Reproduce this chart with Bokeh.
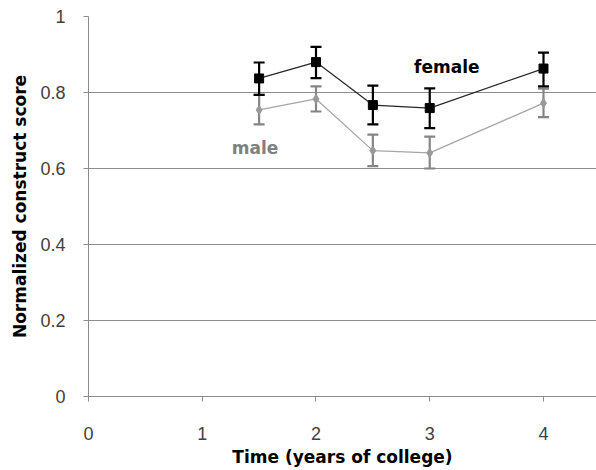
from bokeh.plotting import figure
from bokeh.models import Label, Whisker, ColumnDataSource, FixedTicker, Range1d, CustomJSTickFormatter
from bokeh.embed import file_html
from bokeh.resources import INLINE

years = [1.5, 2.0, 2.5, 3.0, 4.0]
female = [0.837, 0.880, 0.767, 0.759, 0.863]
female_upper = [0.879, 0.920, 0.818, 0.811, 0.905]
female_lower = [0.794, 0.838, 0.716, 0.706, 0.816]
male = [0.754, 0.783, 0.647, 0.641, 0.772]
male_upper = [0.794, 0.816, 0.689, 0.684, 0.810]
male_lower = [0.716, 0.750, 0.606, 0.600, 0.735]
x_ticks = [0, 1, 2, 3, 4]
y_ticks = [0, 0.2, 0.4, 0.6, 0.8, 1.0]

FONT = "DejaVu Sans"
TICK_FONT = "Liberation Sans"

p = figure(width=596, height=470, output_backend="svg", toolbar_location=None,
           x_range=Range1d(0, 4.466), y_range=Range1d(0, 1.0),
           min_border_left=88, min_border_top=16, min_border_bottom=74, min_border_right=0)
p.outline_line_color = None
p.xgrid.grid_line_color = None
p.ygrid.grid_line_color = "#8c8c8c"
p.ygrid.grid_line_width = 1

p.xaxis.ticker = FixedTicker(ticks=x_ticks)
p.yaxis.ticker = FixedTicker(ticks=y_ticks)
p.yaxis.formatter = CustomJSTickFormatter(code="return tick == 0 ? '0' : (tick == 1 ? '1' : tick.toFixed(1));")
for ax in (p.xaxis, p.yaxis):
    ax.axis_line_color = "#8c8c8c"
    ax.major_tick_line_color = "#8c8c8c"
    ax.minor_tick_line_color = None
    ax.major_tick_in = 0
    ax.major_tick_out = 5
    ax.major_label_text_font = TICK_FONT
    ax.major_label_text_font_size = "18px"
    ax.major_label_text_color = "#404040"
    ax.axis_label_text_font = FONT
    ax.axis_label_text_font_size = "17px"
    ax.axis_label_text_font_style = "bold"
    ax.axis_label_text_color = "#000000"
p.yaxis.major_label_standoff = 18
p.xaxis.major_label_standoff = 25
p.yaxis.axis_label = "Normalized construct score"
p.yaxis.axis_label_standoff = 7
p.xaxis.axis_label = "Time (years of college)"
p.xaxis.axis_label_standoff = 4

fsrc = ColumnDataSource(dict(x=years, y=female, up=female_upper, lo=female_lower))
msrc = ColumnDataSource(dict(x=years, y=male, up=male_upper, lo=male_lower))

# male
p.line("x", "y", source=msrc, line_color="#a6a6a6", line_width=1.3)
wm = Whisker(base="x", upper="up", lower="lo", source=msrc, line_color="#858585", line_width=2.2)
for h in (wm.upper_head, wm.lower_head):
    h.line_color = "#858585"; h.line_width = 2.2; h.size = 11
p.add_layout(wm)
p.scatter("x", "y", source=msrc, marker="diamond", size=9, fill_color="#999999", line_color="#999999")

# female
p.line("x", "y", source=fsrc, line_color="#262626", line_width=1.2)
wf = Whisker(base="x", upper="up", lower="lo", source=fsrc, line_color="#000000", line_width=2.2)
for h in (wf.upper_head, wf.lower_head):
    h.line_color = "#000000"; h.line_width = 2.2; h.size = 11
p.add_layout(wf)
p.scatter("x", "y", source=fsrc, marker="square", size=9, fill_color="#000000", line_color="#000000")

p.add_layout(Label(x=3.15, y=0.868, text="female", text_font=FONT, text_font_size="17px",
                   text_font_style="bold", text_color="#000000", text_align="center",
                   text_baseline="middle"))
p.add_layout(Label(x=1.464, y=0.653, text="male", text_font=FONT, text_font_size="17px",
                   text_font_style="bold", text_color="#808080", text_align="center",
                   text_baseline="middle"))

open("out.html", "w").write(file_html(p, INLINE))
